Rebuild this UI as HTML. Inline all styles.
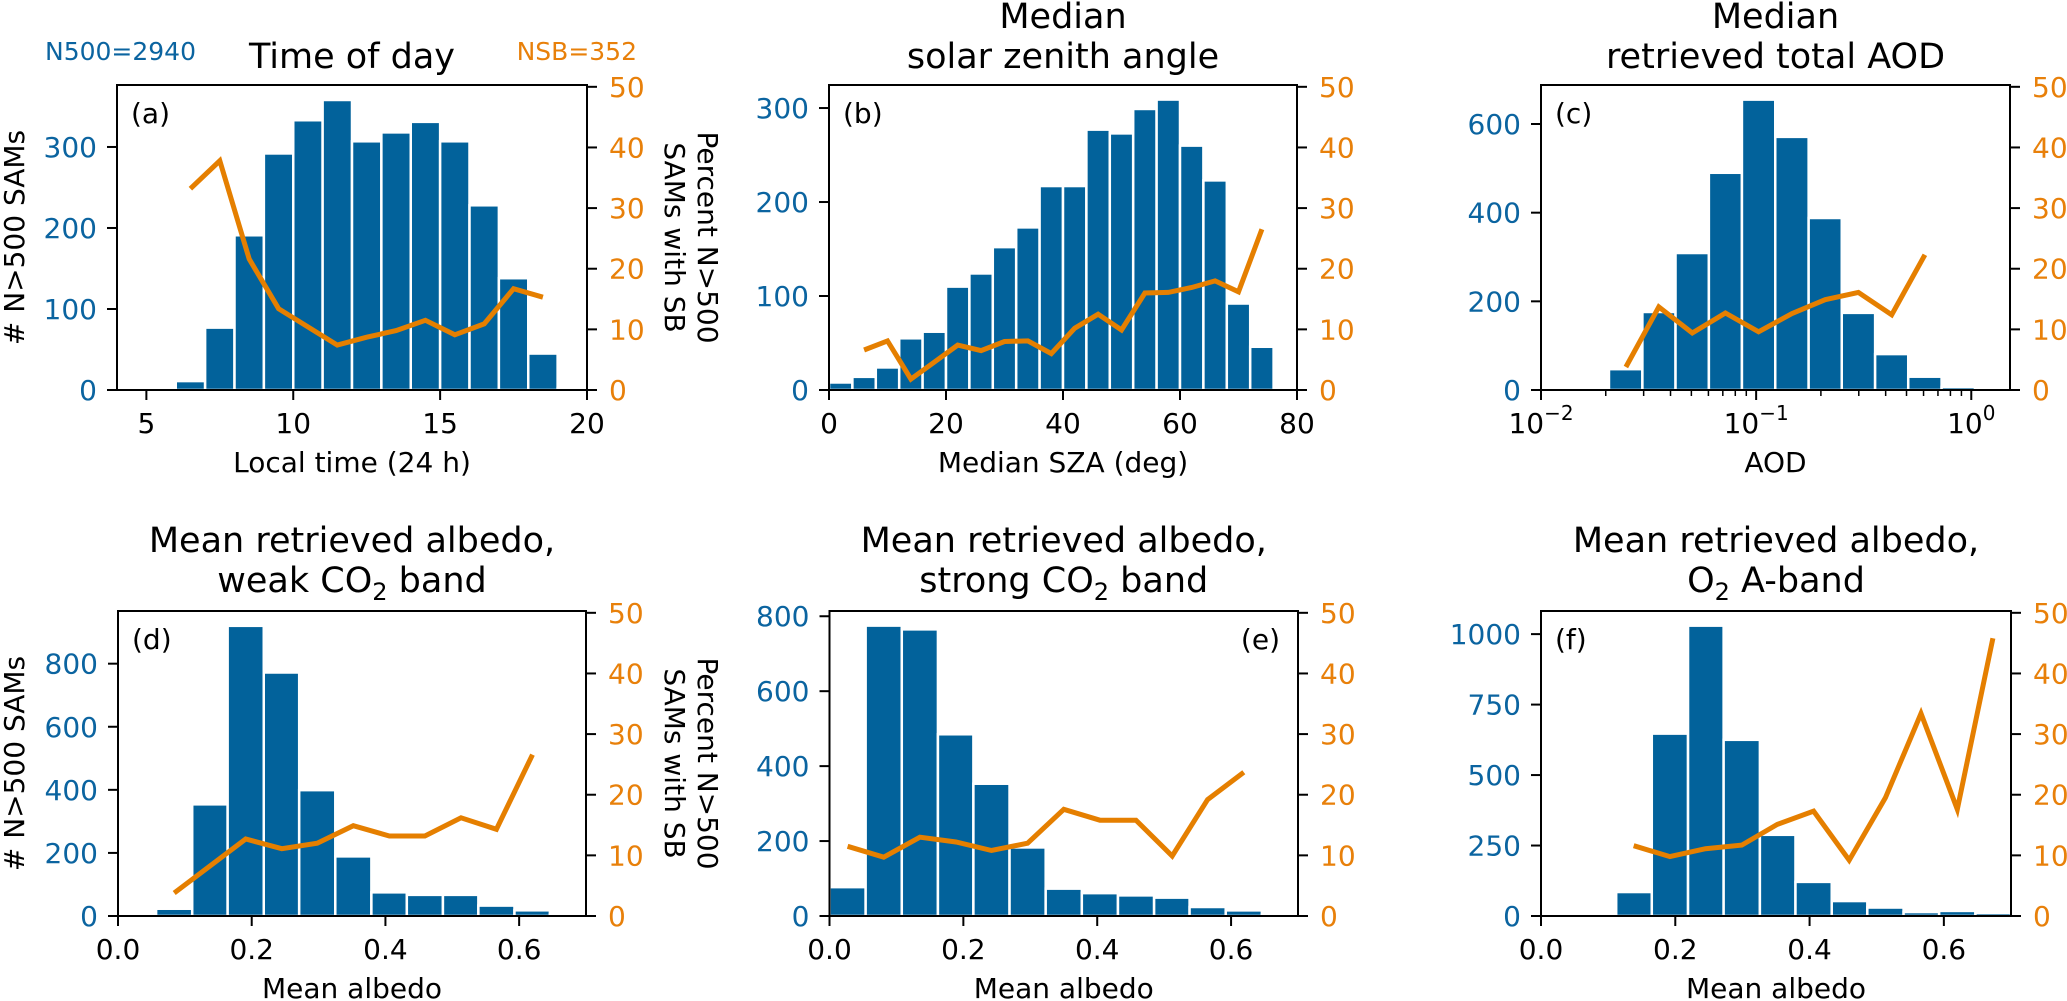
<!DOCTYPE html>
<html><head><meta charset="utf-8"><style>
html,body{margin:0;padding:0;background:#fff;}
svg{display:block;font-family:"DejaVu Sans","Liberation Sans",sans-serif;}
</style></head><body>
<svg id="fig" width="2067" height="1001" viewBox="0 0 2067 1001" xmlns="http://www.w3.org/2000/svg">
<text x="45" y="60" font-size="25" fill="#0b64a0">N500=2940</text>
<text x="637" y="60" font-size="25" fill="#e8800a" text-anchor="end">NSB=352</text>
</svg>
<script>
// ---- Panel (a) Time of day ----
const aEdges = [6,7,8,9,10,11,12,13,14,15,16,17,18,19,20];
const aCounts = [11,77,191,292,333,358,307,318,331,307,228,138,45,2];
const aLineX = [6.5,7.5,8.5,9.5,10.5,11.5,12.5,13.5,14.5,15.5,16.5,17.5,18.5];
const aPct = [33.2,37.8,21.6,13.4,10.4,7.4,8.7,9.8,11.5,9.1,10.9,16.7,15.3];
const aXTicks = [5,10,15,20];
const aYTicks = [0,100,200,300];
// ---- Panel (b) SZA ----
const bEdges = [0,4,8,12,16,20,24,28,32,36,40,44,48,52,56,60,64,68,72,76];
const bCounts = [8,14,24,55,62,110,124,152,173,217,217,277,273,299,309,260,223,92,46];
const bLineX = [6,10,14,18,22,26,30,34,38,42,46,50,54,58,62,66,70,74];
const bPct = [6.6,8.1,1.8,4.6,7.4,6.5,8.0,8.1,6.0,10.2,12.5,9.9,16.0,16.1,16.9,18.0,16.2,26.5];
const bXTicks = [0,20,40,60,80];
const bYTicks = [0,100,200,300];
// ---- Panel (c) AOD ----
const cEdges = [0.0207,0.0296,0.0422,0.0603,0.0859,0.1227,0.1754,0.2500,0.3573,0.5093,0.7278,1.040];
const cCounts = [47,176,309,490,655,571,388,174,81,30,7];
const cLineX = [0.0248,0.0353,0.0505,0.0720,0.1027,0.1467,0.2094,0.2989,0.4266,0.6088];
const cPct = [3.8,13.7,9.4,12.7,9.6,12.6,14.9,16.1,12.4,22.3];
const cXTicks = [-2,-1,0];
const cYTicks = [0,200,400,600];
// ---- Panel (d) weak CO2 ----
const dEdges = [0.057,0.111,0.164,0.218,0.271,0.325,0.379,0.432,0.486,0.539,0.593,0.646,0.700];
const dCounts = [23,354,920,772,399,189,75,67,67,33,18,6];
const dLineX = [0.084,0.138,0.191,0.245,0.298,0.352,0.406,0.459,0.513,0.566,0.620];
const dPct = [3.8,8.3,12.7,11.1,12.0,14.9,13.2,13.2,16.2,14.3,26.6];
// ---- Panel (e) strong CO2 ----
const eEdges = [0,0.054,0.108,0.162,0.215,0.269,0.323,0.377,0.431,0.485,0.538,0.592,0.646,0.700];
const eCounts = [77,775,765,485,353,183,73,61,55,49,24,15,4];
const eLineX = [0.027,0.081,0.135,0.189,0.242,0.296,0.350,0.404,0.458,0.512,0.565,0.619];
const ePct = [11.5,9.7,13.0,12.2,10.8,12.0,17.6,15.8,15.8,9.9,19.2,23.7];
// ---- Panel (f) O2 A-band ----
const fEdges = [0.112,0.165,0.219,0.272,0.326,0.379,0.433,0.486,0.540,0.593,0.647,0.700];
const fCounts = [85,647,1030,625,288,121,53,30,14,18,11];
const fLineX = [0.138,0.192,0.245,0.299,0.352,0.406,0.459,0.513,0.566,0.620,0.673];
const fPct = [11.6,9.8,11.1,11.7,15.1,17.3,9.2,19.5,33.4,17.6,45.8];
const albedoTicks = [0.0,0.2,0.4,0.6];
const dYTicks = [0,200,400,600,800];
const eYTicks = [0,200,400,600,800];
const fYTicks = [0,250,500,750,1000];
const pctTicks = [0,10,20,30,40,50];

const NS = "http://www.w3.org/2000/svg";
const svg = document.getElementById('fig');
const BLUE = "#02629b", ORANGE = "#e57f00", TBLUE = "#0b64a0", TORANGE = "#e8800a";
function mk(tag, attrs, parent){ const e=document.createElementNS(NS,tag); for(const k in attrs) e.setAttribute(k,attrs[k]); (parent||svg).appendChild(e); return e; }

function panel(p){
  const g = mk('g',{});
  
  
  const sx = p.log ? (v => p.L + (Math.log10(v) - p.x0) / (p.x1 - p.x0) * (p.R - p.L))
                   : (v => p.L + (v - p.x0) / (p.x1 - p.x0) * (p.R - p.L));
  const sy = v => p.B - v / p.yMax * (p.B - p.T);
  const sp = v => p.B - v / 50.3 * (p.B - p.T);
  for (let i = 0; i < p.counts.length; i++) {
    const x0 = sx(p.edges[i]), x1 = sx(p.edges[i+1]), y = sy(p.counts[i]);
    const r = mk('rect',{x:x0,y:y,width:x1-x0,height:p.B-y,fill:BLUE,stroke:'#fff','stroke-width':2.5},g);
    
    
  }
  let d = '';
  for (let i = 0; i < p.lineX.length; i++) d += (i ? 'L' : 'M') + sx(p.lineX[i]).toFixed(1) + ',' + sp(p.pct[i]).toFixed(1);
  const ln = mk('path',{d:d,fill:'none',stroke:ORANGE,'stroke-width':5,'stroke-linejoin':'miter'},g);
  
  
  const fr = mk('rect',{x:p.L,y:p.T,width:p.R-p.L,height:p.B-p.T,fill:'none',stroke:'#000','stroke-width':2},g);
  
  
  p.xTicks.forEach(t => {
    const x = p.log ? p.L + (t - p.x0) / (p.x1 - p.x0) * (p.R - p.L) : sx(t);
    mk('line',{x1:x,x2:x,y1:p.B,y2:p.B+10,stroke:'#000','stroke-width':2},g);
    const tx = mk('text',{x:x,y:p.B+43,'font-size':28,'text-anchor':'middle',fill:'#000'},g);
    
    
    if (p.log) {
      tx.textContent = '10';
      const s = mk('tspan',{dy:-13,'font-size':20},tx); s.textContent = (t < 0 ? '\u2212' + (-t) : '' + t);
    } else tx.textContent = p.fmtX ? p.fmtX(t) : String(t);
  });
  if (p.log) {
    for (let k = -2; k <= 0; k++) for (let m = 2; m <= 9; m++) {
      const lv = k + Math.log10(m);
      if (lv > p.x1) continue;
      const x = p.L + (lv - p.x0) / (p.x1 - p.x0) * (p.R - p.L);
      mk('line',{x1:x,x2:x,y1:p.B,y2:p.B+6,stroke:'#000','stroke-width':1.5},g);
    }
  }
  p.yTicks.forEach(t => {
    const y = sy(t);
    mk('line',{x1:p.L-10,x2:p.L,y1:y,y2:y,stroke:'#000','stroke-width':2},g);
    const tx = mk('text',{x:p.L-20,y:y+10,'font-size':28,'text-anchor':'end',fill:TBLUE},g);
    
    
    tx.textContent = String(t);
  });
  pctTicks.forEach(t => {
    const y = sp(t);
    mk('line',{x1:p.R,x2:p.R+10,y1:y,y2:y,stroke:'#000','stroke-width':2},g);
    const tx = mk('text',{x:p.R+22,y:y+10,'font-size':28,'text-anchor':'start',fill:TORANGE},g);
    
    
    tx.textContent = String(t);
  });
  const pl = mk('text',{x:p.labRight ? p.R-18 : p.L+14,y:p.T+38,'font-size':28,'text-anchor':p.labRight?'end':'start',fill:'#000'},g);
  
  
  pl.textContent = '(' + p.id + ')';
  const xl = mk('text',{x:(p.L+p.R)/2,y:p.B+82,'font-size':28,'text-anchor':'middle',fill:'#000'},g);
  
  
  xl.textContent = p.xlabel;
  const cx = (p.L + p.R) / 2;
  p.title.forEach((line, i) => {
    const tt = mk('text',{x:cx,y:p.titleY[i],'font-size':35,'text-anchor':'middle',fill:'#000'},g);
    
    
    line.forEach(seg => {
      const ts = mk('tspan',{},tt);
      if (seg.sub) { ts.setAttribute('font-size','24'); ts.setAttribute('dy','8'); }
      else if (seg.after) { ts.setAttribute('dy','-8'); }
      ts.textContent = seg.t;
    });
  });
  if (p.ylabels) {
    const yc = (p.T + p.B) / 2;
    const l1 = mk('text',{transform:`translate(24,${yc}) rotate(-90)`,'font-size':28,'text-anchor':'middle',fill:'#000'},g);
    
    
    l1.textContent = '# N>500 SAMs';
    const l2 = mk('text',{transform:`translate(698,${yc}) rotate(90)`,'font-size':28,'text-anchor':'middle',fill:'#000'},g);
    
    
    l2.textContent = 'Percent N>500';
    const l3 = mk('text',{transform:`translate(665,${yc}) rotate(90)`,'font-size':28,'text-anchor':'middle',fill:'#000'},g);
    
    
    l3.textContent = 'SAMs with SB';
  }
}
const f1 = v => v.toFixed(1);
panel({id:'a',L:117,R:587,T:85,B:390,x0:4,x1:20,yMax:376.5,edges:aEdges,counts:aCounts,lineX:aLineX,pct:aPct,xTicks:aXTicks,yTicks:aYTicks,xlabel:'Local time (24 h)',title:[[{t:'Time of day'}]],titleY:[68],ylabels:true});
panel({id:'b',L:829,R:1297,T:85,B:390,x0:0,x1:80,yMax:324.5,edges:bEdges,counts:bCounts,lineX:bLineX,pct:bPct,xTicks:bXTicks,yTicks:bYTicks,xlabel:'Median SZA (deg)',title:[[{t:'Median'}],[{t:'solar zenith angle'}]],titleY:[28,68]});
panel({id:'c',L:1541,R:2010,T:85,B:390,log:true,x0:-2,x1:0.18,yMax:688,edges:cEdges,counts:cCounts,lineX:cLineX,pct:cPct,xTicks:cXTicks,yTicks:cYTicks,xlabel:'AOD',title:[[{t:'Median'}],[{t:'retrieved total AOD'}]],titleY:[28,68]});
panel({id:'d',L:118,R:586,T:611,B:916,x0:0,x1:0.7,yMax:967,edges:dEdges,counts:dCounts,lineX:dLineX,pct:dPct,xTicks:albedoTicks,yTicks:dYTicks,fmtX:f1,xlabel:'Mean albedo',title:[[{t:'Mean retrieved albedo,'}],[{t:'weak CO'},{t:'2',sub:true},{t:' band',after:true}]],titleY:[552,592],ylabels:true});
panel({id:'e',L:829.5,R:1298,T:611,B:916,x0:0,x1:0.7,yMax:814,edges:eEdges,counts:eCounts,lineX:eLineX,pct:ePct,xTicks:albedoTicks,yTicks:eYTicks,fmtX:f1,xlabel:'Mean albedo',labRight:true,title:[[{t:'Mean retrieved albedo,'}],[{t:'strong CO'},{t:'2',sub:true},{t:' band',after:true}]],titleY:[552,592]});
panel({id:'f',L:1541,R:2011,T:611,B:916,x0:0,x1:0.7,yMax:1082,edges:fEdges,counts:fCounts,lineX:fLineX,pct:fPct,xTicks:albedoTicks,yTicks:fYTicks,fmtX:f1,xlabel:'Mean albedo',title:[[{t:'Mean retrieved albedo,'}],[{t:'O'},{t:'2',sub:true},{t:' A-band',after:true}]],titleY:[552,592]});
</script>
</body></html>
